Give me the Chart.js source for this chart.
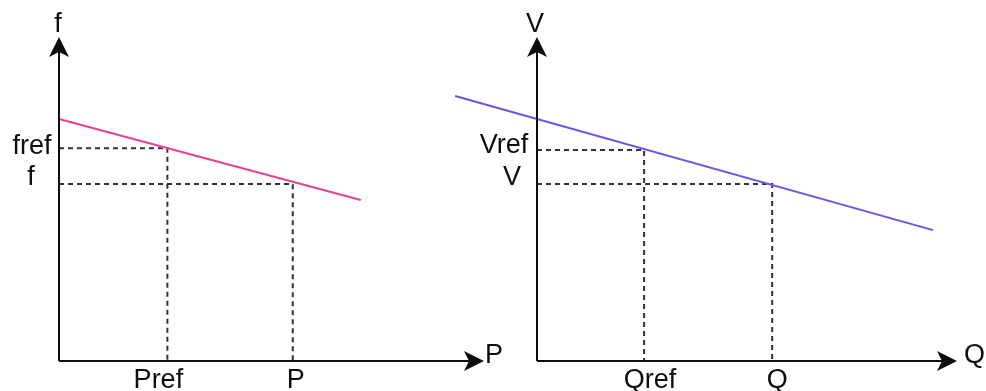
<!DOCTYPE html>
<html>
<head>
<meta charset="utf-8">
<script src="https://cdn.jsdelivr.net/npm/chart.js@4"></script>
<style>
  html, body { margin: 0; padding: 0; background: #ffffff; }
  #wrap { position: relative; width: 986px; height: 391px; overflow: hidden; }
  #wrap canvas { position: absolute; top: 0; }
</style>
</head>
<body>
<div id="wrap">
  <canvas id="pf" width="510" height="391" style="left:0px"></canvas>
  <canvas id="qv" width="546" height="391" style="left:440px"></canvas>
</div>
<script>
// ---- P–f droop characteristic (normalised units, 0..100 on both axes) ----
const pfAxisNames   = ['P', 'f'];
const pfTickLabels  = ['Pref', 'P'];
const pfLevelLabels = ['fref', 'f'];
const pfDroopX      = [0, 71];
const pfDroopY      = [74.7, 49.7];
const pfPoints      = [25.5, 55.0];   // Pref, P
const pfLevels      = [65.7, 54.6];   // fref, f

// ---- Q–V droop characteristic ----
const qvAxisNames   = ['Q', 'V'];
const qvTickLabels  = ['Qref', 'Q'];
const qvLevelLabels = ['Vref', 'V'];
const qvDroopX      = [-19.5, 94.3];
const qvDroopY      = [81.8, 40.4];
const qvPoints      = [25.5, 56.0];   // Qref, Q
const qvLevels      = [65.1, 54.6];   // Vref, V

const FONT = '27px "Liberation Sans", Arial, Helvetica, sans-serif';
const INK = '#0d0d0d';
const DASH_INK = '#333333';

function arrowHead(ctx, tx, ty, dir) {
  // dir: 'right' or 'up'; classic notched arrow
  const L = 20, W = 10, N = 15;
  ctx.beginPath();
  if (dir === 'right') {
    ctx.moveTo(tx, ty);
    ctx.lineTo(tx - L, ty - W);
    ctx.lineTo(tx - N, ty);
    ctx.lineTo(tx - L, ty + W);
  } else {
    ctx.moveTo(tx, ty);
    ctx.lineTo(tx - W, ty + L);
    ctx.lineTo(tx, ty + N);
    ctx.lineTo(tx + W, ty + L);
  }
  ctx.closePath();
  ctx.fill();
}

// Draws the arrowed axes and all symbolic labels of one panel.
const diagramPlugin = {
  id: 'droopDiagram',
  afterDatasetsDraw(chart) {
    const o = chart.options.plugins.droopDiagram;
    const { ctx, chartArea } = chart;
    const xs = chart.scales.x, ys = chart.scales.y;
    const x0 = xs.getPixelForValue(0);
    const y0 = ys.getPixelForValue(0);
    const xEnd = chartArea.right, yTop = chartArea.top;

    ctx.save();
    ctx.strokeStyle = INK;
    ctx.fillStyle = INK;
    ctx.lineWidth = 2;
    ctx.beginPath();
    ctx.moveTo(x0, y0);
    ctx.lineTo(xEnd - 14, y0);
    ctx.moveTo(x0, y0);
    ctx.lineTo(x0, yTop + 14);
    ctx.stroke();
    arrowHead(ctx, xEnd, y0, 'right');
    arrowHead(ctx, x0, yTop, 'up');

    ctx.font = FONT;
    ctx.textBaseline = 'alphabetic';
    // axis names
    ctx.textAlign = 'left';
    ctx.fillText(o.axisNames[0], xEnd + o.xNameDx, y0 + 2);
    ctx.textAlign = 'center';
    ctx.fillText(o.axisNames[1], x0 + o.yNameDx, yTop - 5);
    // labels under the horizontal axis
    o.points.forEach((v, i) => {
      ctx.fillText(o.tickLabels[i], xs.getPixelForValue(v) + o.tickDx[i], y0 + 27);
    });
    // labels beside the vertical axis
    o.levels.forEach((v, i) => {
      ctx.fillText(o.levelLabels[i], x0 + o.levelDx[i], ys.getPixelForValue(v) + o.levelDy[i]);
    });
    ctx.restore();
  }
};

function guide(xv, yv) {
  return {
    data: [{ x: 0, y: yv }, { x: xv, y: yv }, { x: xv, y: 0 }],
    borderColor: DASH_INK,
    borderWidth: 2,
    borderDash: [5, 4],
    pointRadius: 0,
    tension: 0,
    order: 2
  };
}

function makePanel(id, p) {
  const droop = p.droopX.map((x, i) => ({ x, y: p.droopY[i] }));
  return new Chart(document.getElementById(id), {
    type: 'line',
    data: {
      datasets: [
        {
          data: droop,
          borderColor: p.color,
          borderWidth: 2,
          pointRadius: 0,
          tension: 0,
          clip: false,
          order: 1
        },
        guide(p.points[0], p.levels[0]),
        guide(p.points[1], p.levels[1])
      ]
    },
    options: {
      responsive: false,
      animation: false,
      events: [],
      layout: { padding: p.padding },
      scales: {
        x: { type: 'linear', min: 0, max: 100, display: false },
        y: { type: 'linear', min: 0, max: 100, display: false }
      },
      plugins: {
        legend: { display: false },
        tooltip: { enabled: false },
        droopDiagram: {
          axisNames: p.axisNames,
          tickLabels: p.tickLabels,
          levelLabels: p.levelLabels,
          points: p.points,
          levels: p.levels,
          xNameDx: p.xNameDx,
          yNameDx: p.yNameDx,
          tickDx: p.tickDx,
          levelDx: p.levelDx,
          levelDy: p.levelDy
        }
      }
    },
    plugins: [diagramPlugin]
  });
}

makePanel('pf', {
  axisNames: pfAxisNames, tickLabels: pfTickLabels, levelLabels: pfLevelLabels,
  droopX: pfDroopX, droopY: pfDroopY, points: pfPoints, levels: pfLevels,
  color: '#ea4096',
  padding: { left: 59, right: 26, top: 37, bottom: 30 },
  xNameDx: 1, yNameDx: -1,
  tickDx: [-9, 3], levelDx: [-27, -28], levelDy: [6, 1]
});

makePanel('qv', {
  axisNames: qvAxisNames, tickLabels: qvTickLabels, levelLabels: qvLevelLabels,
  droopX: qvDroopX, droopY: qvDroopY, points: qvPoints, levels: qvLevels,
  color: '#6f52e6',
  padding: { left: 97, right: 29, top: 37, bottom: 30 },
  xNameDx: 7, yNameDx: -2,
  tickDx: [6, 5], levelDx: [-33, -25], levelDy: [3, 1]
});
</script>
</body>
</html>
